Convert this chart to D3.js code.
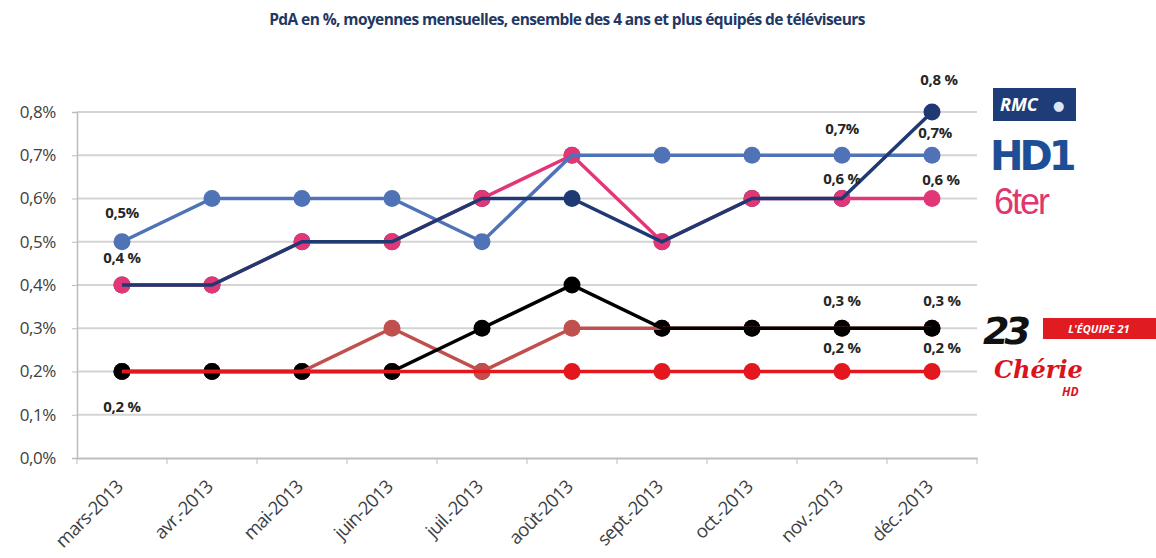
<!DOCTYPE html>
<html>
<head>
<meta charset="utf-8">
<script src="https://cdn.jsdelivr.net/npm/d3@7"></script>
<style>
  body { margin: 0; background: #fff; }
  svg { font-family: "Open Sans", "DejaVu Sans", sans-serif; }
</style>
</head>
<body>
<div id="chart"></div>
<script>
// months of the chart
let months = ["mars-2013", "avr.-2013", "mai-2013", "juin-2013", "juil.-2013",
  "août-2013", "sept.-2013", "oct.-2013", "nov.-2013", "déc.-2013"]

// PdA in %, per channel
let rmcDecouverte = [0.4, 0.4, 0.5, 0.5, 0.6, 0.6, 0.5, 0.6, 0.6, 0.8]
let hd1 = [0.5, 0.6, 0.6, 0.6, 0.5, 0.7, 0.7, 0.7, 0.7, 0.7]
let sixTer = [0.4, 0.4, 0.5, 0.5, 0.6, 0.7, 0.5, 0.6, 0.6, 0.6]
let numero23 = [0.2, 0.2, 0.2, 0.2, 0.3, 0.4, 0.3, 0.3, 0.3, 0.3]
let lequipe21 = [0.2, 0.2, 0.2, 0.3, 0.2, 0.3, 0.3, 0.3, 0.3, 0.3]
let cherie25 = [0.2, 0.2, 0.2, 0.2, 0.2, 0.2, 0.2, 0.2, 0.2, 0.2]

let yTicks = [0, 0.1, 0.2, 0.3, 0.4, 0.5, 0.6, 0.7, 0.8]

// data labels : [series, month index, text, dx, dy]
let dataLabels = [
  ["hd1", 0, "0,5%", 0, -24],
  ["six", 0, "0,4 %", 0, -22],
  ["cherie", 0, "0,2 %", 0, 40],
  ["rmc", 9, "0,8 %", 7, -27],
  ["hd1", 8, "0,7%", 0, -21],
  ["hd1", 9, "0,7%", 3, -17],
  ["rmc", 8, "0,6 %", 0, -15],
  ["six", 9, "0,6 %", 9, -14],
  ["equipe", 8, "0,3 %", 0, -22],
  ["equipe", 9, "0,3 %", 10, -22],
  ["cherie", 8, "0,2 %", 0, -19],
  ["cherie", 9, "0,2 %", 10, -19]
]

let series = [
  { key: "equipe", values: lequipe21, color: "#c0504d" },
  { key: "n23", values: numero23, color: "#000000" },
  { key: "cherie", values: cherie25, color: "#e4161e" },
  { key: "six", values: sixTer, color: "#e23677" },
  { key: "hd1", values: hd1, color: "#4f73b6" },
  { key: "rmc", values: rmcDecouverte, color: "#1f3a73" }
]

let w = 1156
let h = 558
let padLeft = 77, padRight = 977, padTop = 112, padBottom = 458

let svg = d3.select("#chart").append("svg")
    .attr("width", w)
    .attr("height", h)

let x = d3.scaleBand().domain(months).range([padLeft, padRight])
let y = d3.scaleLinear().domain([0, 0.8]).range([padBottom, padTop])
let cx = function (i) { return x(months[i]) + x.bandwidth() / 2 }

/* title */
svg.append("text")
    .attr("x", 567)
    .attr("y", 25)
    .attr("text-anchor", "middle")
    .attr("font-size", "15.5px")
    .attr("font-weight", "bold")
    .attr("fill", "#1f3864")
    .attr("letter-spacing", "-0.6px")
    .text("PdA en %, moyennes mensuelles, ensemble des 4 ans et plus équipés de téléviseurs")

/* grid lines */
svg.append("g").selectAll("line")
    .data(yTicks.slice(1))
    .enter()
    .append("line")
    .attr("x1", padLeft).attr("x2", padRight)
    .attr("y1", d => y(d)).attr("y2", d => y(d))
    .attr("stroke", "#d4d4d4")
    .attr("stroke-width", 2)

/* y axis */
let yAxis = svg.append("g")
    .attr("transform", "translate(" + padLeft + ",0)")
    .call(d3.axisLeft(y).tickValues(yTicks).tickSize(5)
        .tickFormat(d => d.toFixed(1).replace(".", ",") + "%"))
yAxis.select(".domain").attr("stroke", "#bdbdbd").attr("stroke-width", 1.5)
yAxis.selectAll(".tick line").attr("stroke", "#bdbdbd")
yAxis.selectAll(".tick text")
    .attr("x", -21)
    .attr("font-size", "17px")
    .attr("letter-spacing", "-0.4px")
    .attr("fill", "#404040")
    .attr("font-family", "Open Sans, sans-serif")

/* x axis */
let xAxis = svg.append("g")
    .attr("transform", "translate(0," + padBottom + ")")
    .call(d3.axisBottom(x).tickSize(0).tickFormat(""))
xAxis.select(".domain").attr("stroke", "#bdbdbd").attr("stroke-width", 2)
svg.append("g").selectAll("line")
    .data(d3.range(months.length + 1))
    .enter()
    .append("line")
    .attr("x1", i => padLeft + i * x.bandwidth())
    .attr("x2", i => padLeft + i * x.bandwidth())
    .attr("y1", padBottom).attr("y2", padBottom + 6)
    .attr("stroke", "#bdbdbd")

svg.append("g").selectAll("text")
    .data(months)
    .enter()
    .append("text")
    .attr("transform", d => "translate(" + (x(d) + x.bandwidth() / 2 + 2) + "," + (padBottom + 30) + ") rotate(-45)")
    .attr("text-anchor", "end")
    .attr("font-size", "18.5px")
    .attr("letter-spacing", "-0.7px")
    .attr("fill", "#404040")
    .text(d => d)

/* markers first, then lines on top */
let markerOrder = ["cherie", "equipe", "n23", "rmc", "hd1", "six"]
markerOrder.forEach(function (k) {
  let s = series.find(d => d.key === k)
  svg.append("g").selectAll("circle")
      .data(s.values)
      .enter()
      .append("circle")
      .attr("cx", (d, i) => cx(i))
      .attr("cy", d => y(d))
      .attr("r", 8.5)
      .attr("fill", s.color)
})

let line = d3.line().x((d, i) => cx(i)).y(d => y(d))
series.forEach(function (s) {
  svg.append("path")
      .datum(s.values)
      .attr("d", line)
      .attr("fill", "none")
      .attr("stroke", s.color)
      .attr("stroke-width", 3.5)
})

/* data labels */
svg.append("g").selectAll("text")
    .data(dataLabels)
    .enter()
    .append("text")
    .attr("x", d => cx(d[1]) + d[3])
    .attr("y", d => y(series.find(s => s.key === d[0]).values[d[1]]) + d[4])
    .attr("text-anchor", "middle")
    .attr("font-size", "15px")
    .attr("font-weight", "bold")
    .attr("letter-spacing", "-0.3px")
    .attr("fill", "#262626")
    .text(d => d[2])

/* channel logos, drawn as text */
let logos = svg.append("g")
logos.append("rect").attr("x", 993).attr("y", 88).attr("width", 83).attr("height", 33).attr("fill", "#1d3c78")
logos.append("text").attr("x", 1000).attr("y", 111).attr("font-size", "18px").attr("font-weight", "bold")
    .attr("font-style", "italic").attr("fill", "#fff").text("RMC")
logos.append("text").attr("x", 1053).attr("y", 110).attr("font-size", "13px").attr("fill", "#dfe6f3").text("●")
logos.append("text").attr("x", 990).attr("y", 170).attr("font-size", "40px").attr("font-weight", "900")
    .attr("font-family", "DejaVu Sans").attr("letter-spacing", "-4px").attr("fill", "#1e4f96").text("HD1")
logos.append("text").attr("x", 994).attr("y", 214).attr("font-size", "36px")
    .attr("font-family", "Liberation Sans").attr("letter-spacing", "-2px").attr("fill", "#e0366f").text("6ter")
logos.append("text").attr("x", 983).attr("y", 344).attr("font-size", "38px").attr("font-weight", "900")
    .attr("font-style", "italic").attr("font-family", "DejaVu Sans").attr("letter-spacing", "-5px").attr("fill", "#111").text("23")
logos.append("rect").attr("x", 1043).attr("y", 318).attr("width", 113).attr("height", 21).attr("fill", "#e01b22")
logos.append("text").attr("x", 1099).attr("y", 333).attr("text-anchor", "middle").attr("font-size", "11px")
    .attr("font-weight", "bold").attr("font-style", "italic").attr("fill", "#fff").text("L'ÉQUIPE 21")
logos.append("text").attr("x", 994).attr("y", 378).attr("font-size", "24px").attr("font-style", "italic")
    .attr("font-weight", "bold").attr("font-family", "DejaVu Serif").attr("fill", "#d9141d").text("Chérie")
logos.append("text").attr("x", 1062).attr("y", 396).attr("font-size", "12px").attr("font-style", "italic")
    .attr("font-weight", "bold").attr("fill", "#d9141d").text("HD")
</script>
</body>
</html>
